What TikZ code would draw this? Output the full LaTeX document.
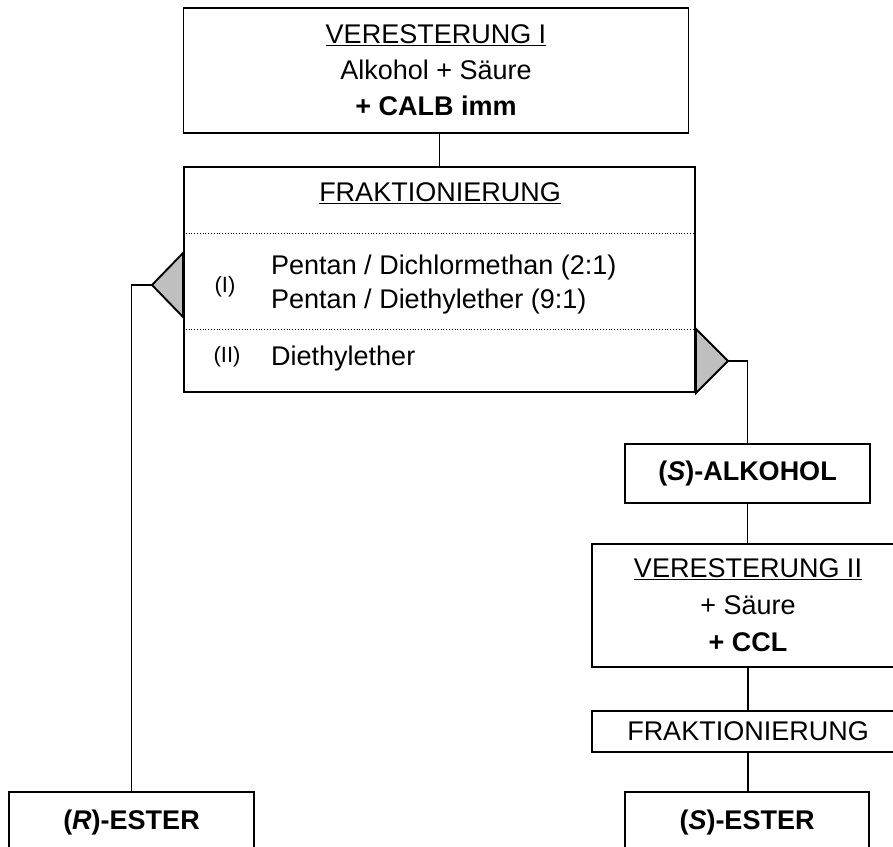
\documentclass[tikz,border=0pt]{standalone}
\usepackage{fontspec}
\setmainfont{Liberation Sans}
\usetikzlibrary{positioning, calc}

\tikzset{
  stepbox/.style={draw, line width=1.9pt, inner sep=0pt, align=center, font=\fontsize{27}{36}\selectfont},
  link/.style={line width=1.9pt},
  sepline/.style={dotted, line width=0.8pt},
  tri/.style={fill=white!75!black, draw=black, line width=1.9pt},
  txt/.style={font=\fontsize{27}{34}\selectfont, inner sep=0pt},
  small/.style={font=\fontsize{22}{26}\selectfont, inner sep=0pt}
}

\begin{document}
\begin{tikzpicture}[x=1pt, y=-1pt]
  \useasboundingbox (0,0) rectangle (893,846);

  \node[stepbox, minimum width=505pt, minimum height=125pt] (ver1) at (436,70.5)
    {\underline{VERESTERUNG I}\\Alkohol + Säure\\\textbf{+ CALB imm}};
  \node[stepbox, minimum width=511pt, minimum height=225pt] (frak1) at (439.5,279.5) {};
  \node[txt] (fraktitle) at (440,193) {\underline{FRAKTIONIERUNG}};
  \node[txt, anchor=west, align=left] (elu1) at (271,285)
    {Pentan / Dichlormethan (2:1)\\Pentan / Diethylether (9:1)};
  \node[small] (num1) at (225,287) {(I)};
  \node[small] (num2) at (227,357) {(II)};
  \node[txt, anchor=west] (elu2) at (271,359) {Diethylether};
  \draw[sepline] (frak1.west |- 0,233) -- (frak1.east |- 0,233);
  \draw[sepline] (frak1.west |- 0,329) -- (frak1.east |- 0,329);

  \coordinate (tipL) at (152,285);
  \coordinate (tipR) at (728,361);
  \filldraw[tri] (frak1.west |- 0,253) -- (tipL) -- (frak1.west |- 0,317) -- cycle;
  \filldraw[tri] (frak1.east |- 0,329) -- (tipR) -- (frak1.east |- 0,393) -- cycle;

  \node[stepbox, minimum width=245pt, minimum height=59pt] (salk) at (747.5,473.5)
    {\textbf{(\textit{S})-ALKOHOL}};
  \node[stepbox, minimum width=312pt, minimum height=123pt, font=\fontsize{27}{37}\selectfont] (ver2) at (748,605.5)
    {\underline{VERESTERUNG II}\\+ Säure\\\textbf{+ CCL}};
  \node[stepbox, minimum width=312pt, minimum height=41pt] (frak2) at (748,731.5) {FRAKTIONIERUNG};
  \node[stepbox, minimum width=244pt, minimum height=62pt] (sester) at (747,823)
    {\textbf{(\textit{S})-ESTER}};
  \node[stepbox, minimum width=245pt, minimum height=62pt] (rester) at (131.5,823)
    {\textbf{(\textit{R})-ESTER}};

  \draw[link] (ver1.south -| frak1.north) -- (frak1.north);
  \draw[link] (tipL) -| (rester.north);
  \draw[link] (tipR) -| (salk.north);
  \draw[link] (salk.south) -- (salk.south |- ver2.north);
  \draw[link] (ver2.south) -- (frak2.north);
  \draw[link] (frak2.south) -- (frak2.south |- sester.north);
\end{tikzpicture}
\end{document}
